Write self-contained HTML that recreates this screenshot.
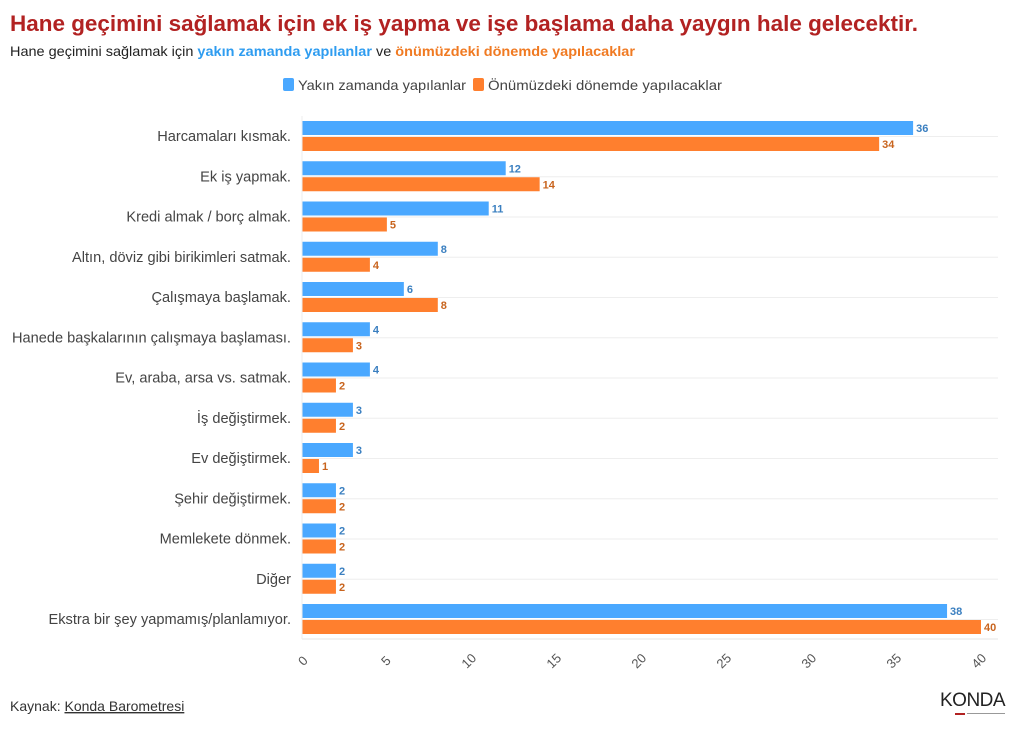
<!DOCTYPE html>
<html><head><meta charset="utf-8"><style>
body{margin:0;background:#fff;width:1020px;height:733px;overflow:hidden;font-family:"Liberation Sans",sans-serif}
</style></head><body>
<svg width="1020" height="733" xmlns="http://www.w3.org/2000/svg" font-family="Liberation Sans, sans-serif">
<text x="10" y="31" font-size="22" font-weight="bold" fill="#b22222" textLength="908" lengthAdjust="spacingAndGlyphs">Hane geçimini sağlamak için ek iş yapma ve işe başlama daha yaygın hale gelecektir.</text>
<text x="10" y="56" font-size="14" fill="#222" textLength="625" lengthAdjust="spacingAndGlyphs">Hane geçimini sağlamak için <tspan fill="#2e9cf0" font-weight="bold">yakın zamanda yapılanlar</tspan> ve <tspan fill="#f07a22" font-weight="bold">önümüzdeki dönemde yapılacaklar</tspan></text>
<rect x="283" y="78" width="11" height="13" rx="2" fill="#4aa8ff"/>
<text x="298" y="90" font-size="14" fill="#444" textLength="168" lengthAdjust="spacingAndGlyphs">Yakın zamanda yapılanlar</text>
<rect x="473" y="78" width="11" height="13" rx="2" fill="#ff7f2e"/>
<text x="488" y="90" font-size="14" fill="#444" textLength="234" lengthAdjust="spacingAndGlyphs">Önümüzdeki dönemde yapılacaklar</text>
<g id="c"></g>
<line x1="302" y1="639" x2="998" y2="639" stroke="#e6e6e6"/>
<line x1="302" y1="116" x2="302" y2="639" stroke="#eee"/>
<g font-size="13" fill="#555">
<text transform="translate(306,664) rotate(-45)" text-anchor="middle">0</text>
<text transform="translate(389,664) rotate(-45)" text-anchor="middle">5</text>
<text transform="translate(472,664) rotate(-45)" text-anchor="middle">10</text>
<text transform="translate(557,664) rotate(-45)" text-anchor="middle">15</text>
<text transform="translate(642,664) rotate(-45)" text-anchor="middle">20</text>
<text transform="translate(727,664) rotate(-45)" text-anchor="middle">25</text>
<text transform="translate(812,664) rotate(-45)" text-anchor="middle">30</text>
<text transform="translate(897,664) rotate(-45)" text-anchor="middle">35</text>
<text transform="translate(982,664) rotate(-45)" text-anchor="middle">40</text>
</g>
<text x="10" y="711" font-size="14" fill="#333">Kaynak: <tspan text-decoration="underline">Konda Barometresi</tspan></text>
<text x="940" y="706" font-size="19" fill="#222" letter-spacing="-0.5">KONDA</text>
<rect x="955" y="713" width="10" height="2" fill="#b22222"/>
<rect x="967" y="713" width="38" height="1" fill="#999"/>
</svg>
<script>
var d=[["Harcamaları kısmak.",36,34],["Ek iş yapmak.",12,14],["Kredi almak / borç almak.",11,5],["Altın, döviz gibi birikimleri satmak.",8,4],["Çalışmaya başlamak.",6,8],["Hanede başkalarının çalışmaya başlaması.",4,3],["Ev, araba, arsa vs. satmak.",4,2],["İş değiştirmek.",3,2],["Ev değiştirmek.",3,1],["Şehir değiştirmek.",2,2],["Memlekete dönmek.",2,2],["Diğer",2,2],["Ekstra bir şey yapmamış/planlamıyor.",38,40]];
var s="",k=16.975;
d.forEach(function(r,i){var y=121+i*40.25;
s+='<line x1="302" y1="'+(y+15.5)+'" x2="998" y2="'+(y+15.5)+'" stroke="#eee"/>';
s+='<text x="291" y="'+(y+20)+'" font-size="14.6" fill="#444" text-anchor="end">'+r[0]+'</text>';
s+='<rect x="302" y="'+y+'" width="'+r[1]*k+'" height="14" fill="#4aa8ff"/>';
s+='<rect x="302" y="'+(y+16)+'" width="'+r[2]*k+'" height="14" fill="#ff7f2e"/>';
s+='<text x="'+(305+r[1]*k)+'" y="'+(y+11)+'" font-size="11" font-weight="bold" fill="#3a7fc0">'+r[1]+'</text>';
s+='<text x="'+(305+r[2]*k)+'" y="'+(y+27)+'" font-size="11" font-weight="bold" fill="#c8641e">'+r[2]+'</text>';});
document.getElementById("c").innerHTML=s;
</script>
</body></html>
